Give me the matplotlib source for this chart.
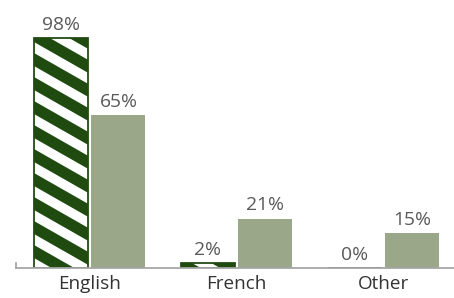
import matplotlib
matplotlib.use("Agg")
import matplotlib.pyplot as plt
from matplotlib.patches import Polygon
import numpy as np

categories = ["English", "French", "Other"]
series_a = [98, 2, 0]     # hatched dark green
series_b = [65, 21, 15]   # light green

DPI = 160
W, H = 454, 298
plt.rcParams['font.family'] = ['Open Sans', 'DejaVu Sans']

fig = plt.figure(figsize=(W / DPI, H / DPI), dpi=DPI)
left_px, right_px = 16, 457
bottom_px = 268
ax_w = right_px - left_px
ax_h = bottom_px
ax = fig.add_axes([left_px / W, (H - bottom_px) / H, ax_w / W, ax_h / H])

dark = '#1f4a10'
light = '#9aa889'
x = np.arange(len(categories))
bw = 0.367
off = 0.197

ax.set_xlim(-0.5, 2.5)
ax.set_ylim(0, 268 / 2.347)

bars_a = ax.bar(x - off, series_a, bw, color=dark, linewidth=0)
ax.bar(x + off, series_b, bw, color=light, linewidth=0)

# white diagonal stripes (pattern fill) clipped to each hatched bar
slope = 0.57       # falling to the right
period = 24.0      # vertical period (reference px)
white = 11.0       # white band thickness (reference px)
x0_img, y0_img = 34.0, 42.0


def to_axes(px, py):
    return ((px - left_px) / ax_w, (bottom_px - py) / ax_h)


for b in bars_a:
    if b.get_height() <= 0:
        continue
    for k in range(-40, 40):
        c = y0_img + k * period
        xa, xb = -50.0, W + 50.0
        pts_img = [(xa, c + slope * (xa - x0_img)), (xb, c + slope * (xb - x0_img)),
                   (xb, c + white + slope * (xb - x0_img)), (xa, c + white + slope * (xa - x0_img))]
        pts = [to_axes(px, py) for px, py in pts_img]
        poly = Polygon(pts, closed=True, facecolor='white', edgecolor='none',
                       transform=ax.transAxes)
        ax.add_patch(poly)
        poly.set_clip_path(b)
ax.bar(x - off, series_a, bw, fill=False, edgecolor=dark, linewidth=0.8)

for xi, v in zip(x - off, series_a):
    ax.text(xi, v + 1.8, f"{v}%", ha='center', va='bottom', fontsize=8.7, color='#595959')
for xi, v in zip(x + off, series_b):
    ax.text(xi, v + 1.8, f"{v}%", ha='center', va='bottom', fontsize=8.7, color='#595959')

ax.set_xticks(x)
ax.set_xticklabels(categories, fontsize=8.5, color='#333333')
ax.tick_params(axis='x', length=0, pad=3)
ax.set_yticks([])
for s in ['top', 'right', 'left']:
    ax.spines[s].set_visible(False)
ax.spines['bottom'].set_color('#a6a6a6')
ax.spines['bottom'].set_linewidth(0.8)
ax.plot([-0.5, -0.5], [0, 2.1], color='#a6a6a6', lw=0.8, clip_on=False)

fig.savefig("out.png", dpi=DPI)
